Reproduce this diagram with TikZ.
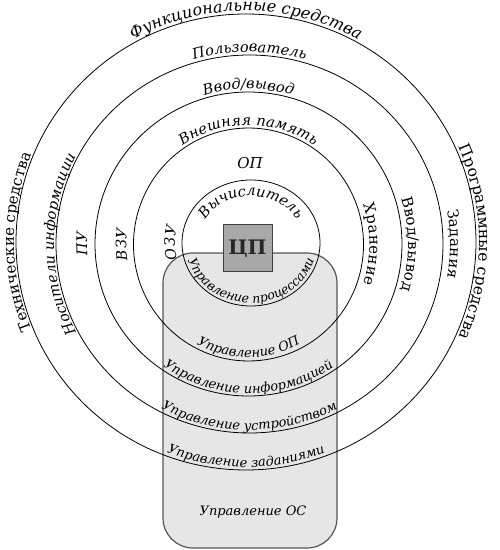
\documentclass[tikz,border=0pt]{standalone}
\usepackage{fontspec}
\setmainfont{DejaVu Serif}
\usetikzlibrary{decorations.text}
\definecolor{osfill}{HTML}{E6E6E6}
\definecolor{osline}{HTML}{555555}
\definecolor{cpufill}{HTML}{A8A8A8}
\definecolor{cpuline}{HTML}{404040}
\newcommand\fF{\fontsize{16}{19}\selectfont\itshape}
\newcommand\fI{\fontsize{14.5}{17}\selectfont\itshape}
\newcommand\fU{\fontsize{15}{18}\selectfont\upshape}
\newcommand\fP{\fontsize{15.5}{18}\selectfont\upshape}
\newcommand\fS{\fontsize{13}{15}\selectfont\itshape}
\newcommand\fSs{\fontsize{12.5}{15}\selectfont\itshape}
% #1 centre, #2 x radius, #3 y radius, #4 start angle, #5 end angle, #6 raise, #7 text
\newcommand\arclabel[7]{\path[decorate,decoration={text along path,text={#7},text align=center,raise=#6}]
  ([shift={(#1)}]#4:#2 and #3) arc[start angle=#4,end angle=#5,x radius=#2,y radius=#3];}
\begin{document}
\begin{tikzpicture}[x=1pt,y=1pt,
  ring/.style={draw=black,line width=0.8pt},
  osbox/.style={draw=osline,fill=osfill,line width=1.2pt,rounded corners=30pt,inner sep=0pt},
  cpubox/.style={draw=cpuline,fill=cpufill,line width=1pt,inner sep=0pt,font=\fontsize{20}{22}\selectfont\bfseries,text=black!85}]
\useasboundingbox (0,0) rectangle (500,550);
\coordinate (c1) at (251,307);
\coordinate (c2) at (248.5,305.5);
\coordinate (c3) at (248.5,306);
\coordinate (c4) at (249.5,306);
\coordinate (c5) at (246,308);
% OS block
\node[osbox,minimum width=174pt,minimum height=295pt] (os) at (250,149.5) {};
% rings
\draw[ring] (c1) ellipse [x radius=69pt, y radius=63pt];
\draw[ring] (c2) ellipse [x radius=115pt, y radius=116.5pt];
\draw[ring] (c3) ellipse [x radius=153.5pt, y radius=152pt];
\draw[ring] (c4) ellipse [x radius=193.5pt, y radius=189pt];
\draw[ring] (c5) ellipse [x radius=230pt, y radius=228pt];
% CPU
\node[cpubox,minimum width=49pt,minimum height=47pt] (cpu) at (247.5,301.5) {ЦП};
% top labels
\arclabel{c5}{230pt}{228pt}{170}{10}{3pt}{|\fF|Функциональные средства}
\arclabel{c4}{193.5pt}{189pt}{170}{10}{3pt}{|\fI|Пользователь}
\arclabel{c3}{153.5pt}{152pt}{170}{10}{3pt}{|\fI|Ввод/вывод}
\arclabel{c2}{115pt}{116.5pt}{170}{10}{3pt}{|\fI|Внешняя память}
\node[font=\fontsize{15}{18}\selectfont\itshape] (op) at (250,387) {ОП};
\arclabel{c1}{53pt}{47pt}{175}{5}{0pt}{|\fI|Вычислитель}
% left labels
\arclabel{c5}{230pt}{228pt}{250}{110}{2pt}{|\fU|Технические средства}
\arclabel{c4}{193.5pt}{189pt}{250}{110}{2pt}{|\fI|Носители информации}
\arclabel{c3}{153.5pt}{152pt}{250}{110}{8pt}{|\fI|ПУ}
\arclabel{c2}{115pt}{116.5pt}{250}{110}{7pt}{|\fI|ВЗУ}
\arclabel{c1}{69pt}{63pt}{250}{110}{7pt}{|\fI|ОЗУ}
% right labels
\arclabel{c5}{230pt}{228pt}{70}{-70}{3pt}{|\fP|Программные средства}
\arclabel{c4}{193.5pt}{189pt}{70}{-70}{7pt}{|\fU|Задания}
\arclabel{c3}{153.5pt}{152pt}{70}{-70}{6pt}{|\fU|Ввод/вывод}
\arclabel{c2}{115pt}{116.5pt}{70}{-70}{6pt}{|\fU|Хранение}
% bottom labels
\arclabel{c1}{66pt}{60pt}{185}{355}{0pt}{|\fSs|Управление процессами}
\arclabel{c2}{111pt}{112.5pt}{200}{340}{0pt}{|\fS|Управление ОП}
\arclabel{c3}{150.5pt}{149pt}{200}{340}{0pt}{|\fS|Управление информацией}
\arclabel{c4}{190.5pt}{186pt}{200}{340}{0pt}{|\fS|Управление устройством}
\arclabel{c5}{227pt}{225pt}{200}{340}{0pt}{|\fS|Управление заданиями}
\node[font=\fS] (osname) at (253,38) {Управление ОС};
\end{tikzpicture}
\end{document}
